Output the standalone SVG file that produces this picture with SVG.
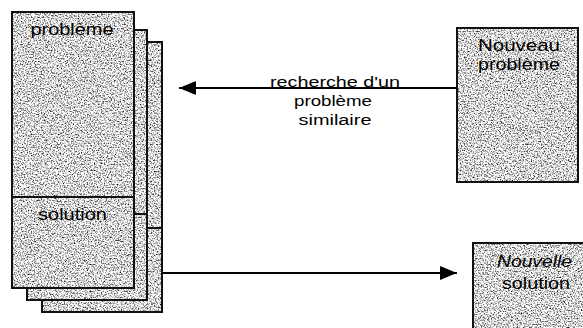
<svg xmlns="http://www.w3.org/2000/svg" width="583" height="328" viewBox="0 0 583 328">
<defs>
<filter id="tex" x="0" y="0" width="100%" height="100%" color-interpolation-filters="sRGB">
<feTurbulence type="fractalNoise" baseFrequency="0.7" numOctaves="3" seed="7" result="n"/>
<feColorMatrix in="n" type="matrix" values="2.2 0 0 0 -0.25  2.2 0 0 0 -0.25  2.2 0 0 0 -0.25  0 0 0 0 1" result="g"/>
<feComposite in="g" in2="SourceGraphic" operator="in"/>
</filter>
<marker id="ah" markerWidth="17" markerHeight="14" refX="17" refY="7" orient="auto" markerUnits="userSpaceOnUse">
<path d="M0,0 L17,7 L0,14 Z" fill="#000"/>
</marker>
</defs>
<style>
.tex{fill:#ccc;filter:url(#tex)}
.frame{fill:none;stroke:#111;stroke-width:2}
.lbl{font-family:"Liberation Sans",Arial,sans-serif;font-size:17px;fill:#000;text-anchor:middle}
.mid{font-family:"Liberation Sans",Arial,sans-serif;font-size:15.5px;fill:#000;text-anchor:middle}
.conn{fill:none;stroke:#000;stroke-width:2}
</style>
<rect width="583" height="328" fill="#fff"/>

<g id="card3">
<rect class="tex" x="42" y="42" width="120" height="270"/>
<rect class="frame" x="42" y="42" width="120" height="270"/>
<line class="frame" x1="42" y1="228" x2="162" y2="228"/>
</g>
<g id="card2">
<rect class="tex" x="27" y="30" width="120" height="270"/>
<rect class="frame" x="27" y="30" width="120" height="270"/>
<line class="frame" x1="27" y1="214" x2="147" y2="214"/>
</g>
<g id="case-probleme">
<rect class="tex" x="12" y="12" width="122" height="185"/>
<rect class="frame" x="12" y="12" width="122" height="185"/>
<text class="lbl" x="72" y="35" textLength="83" lengthAdjust="spacingAndGlyphs">problème</text>
</g>
<g id="case-solution">
<rect class="tex" x="12" y="197" width="122" height="91"/>
<rect class="frame" x="12" y="197" width="122" height="91"/>
<text class="lbl" x="72.5" y="220" textLength="69" lengthAdjust="spacingAndGlyphs">solution</text>
</g>

<g id="nouveau-probleme">
<rect class="tex" x="457" y="28" width="121" height="154"/>
<rect class="frame" x="457" y="28" width="121" height="154"/>
<text class="lbl" x="519" y="51" textLength="82" lengthAdjust="spacingAndGlyphs">Nouveau</text>
<text class="lbl" x="519" y="70" textLength="82" lengthAdjust="spacingAndGlyphs">problème</text>
</g>

<g id="nouvelle-solution">
<rect class="tex" x="473" y="243" width="120" height="100"/>
<rect class="frame" x="473" y="243" width="120" height="100"/>
<text class="lbl" x="534.5" y="267" font-style="italic" textLength="75" lengthAdjust="spacingAndGlyphs">Nouvelle</text>
<text class="lbl" x="536" y="289" textLength="68" lengthAdjust="spacingAndGlyphs">solution</text>
</g>

<g id="connectors">
<line class="conn" x1="457" y1="88" x2="179" y2="88" marker-end="url(#ah)"/>
<line class="conn" x1="162" y1="273" x2="457" y2="273" marker-end="url(#ah)"/>
<text class="mid" x="335" y="87" textLength="130" lengthAdjust="spacingAndGlyphs">recherche d'un</text>
<text class="mid" x="333" y="106" textLength="78" lengthAdjust="spacingAndGlyphs">problème</text>
<text class="mid" x="335" y="125" textLength="73" lengthAdjust="spacingAndGlyphs">similaire</text>
</g>
</svg>
